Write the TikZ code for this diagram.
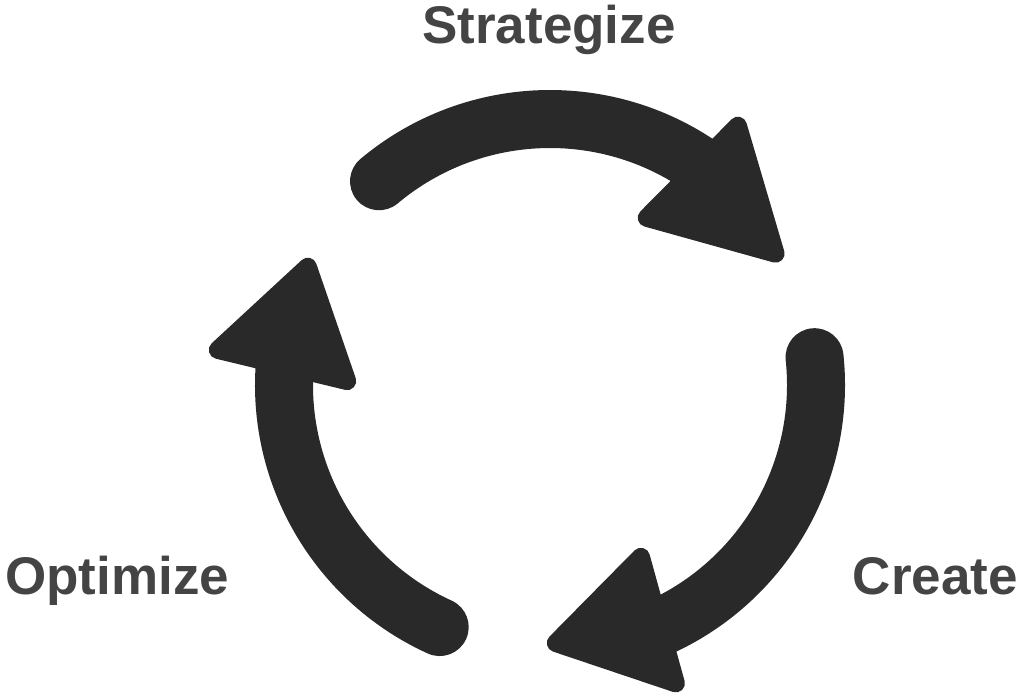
\documentclass[tikz,border=0pt]{standalone}
\usepackage{fontspec}
\setmainfont{Liberation Sans}
\definecolor{arrowgray}{HTML}{292929}
\definecolor{textgray}{HTML}{444444}
\tikzset{
  band/.style={draw=arrowgray, line width=58pt, line cap=round},
  head/.style={fill=arrowgray, draw=arrowgray, line width=18pt, line join=round},
  label/.style={text=textgray, font=\fontsize{53}{60}\selectfont\bfseries, inner sep=0pt}
}
\begin{document}
\begin{tikzpicture}[x=1pt,y=1pt]
\useasboundingbox (0,0) rectangle (1019,-694);
\coordinate (C) at (550,-385);
% top arrow (Strategize)
\draw[band] (C) ++(130:266) arc[start angle=130, end angle=52, radius=266];
\filldraw[head] (737.9,-125.7) -- (646.7,-217.8) -- (775.6,-253.7) -- cycle;
% right arrow (Create)
\draw[band] (C) ++(6:266) arc[start angle=6, end angle=-69, radius=266];
\filldraw[head] (640.9,-556.8) -- (555.8,-643) -- (675.9,-683.4) -- cycle;
% left arrow (Optimize)
\draw[band] (C) ++(245.5:266) arc[start angle=245.5, end angle=172, radius=266];
\filldraw[head] (307.8,-266.7) -- (217.8,-349.9) -- (347.2,-381.1) -- cycle;
% labels
\node[label, anchor=base] (strat) at (549,-43) {Strategize};
\node[label, anchor=base west] (opt) at (5,-594) {Optimize};
\node[label, anchor=base east] (create) at (1018,-594) {Create};
\end{tikzpicture}
\end{document}
